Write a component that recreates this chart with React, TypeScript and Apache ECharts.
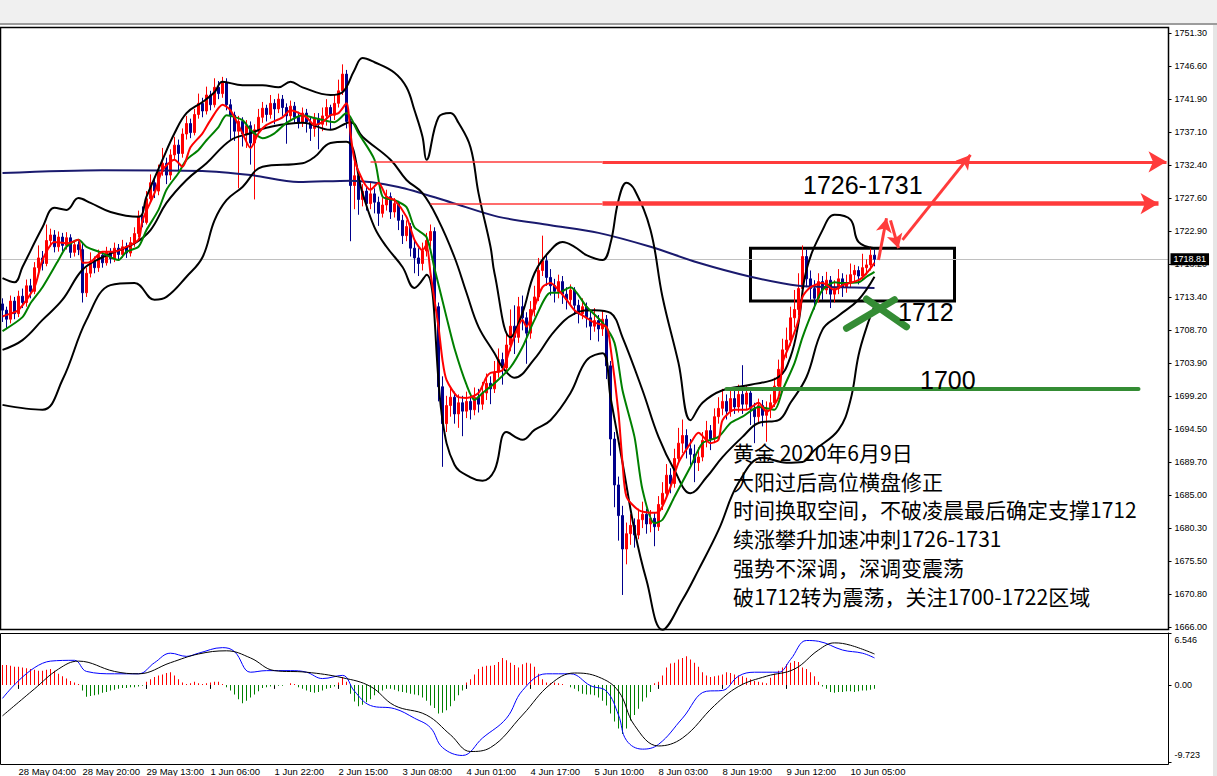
import React, { useEffect, useRef } from 'react';
import * as echarts from 'echarts';

// ---------- DATA ----------
const firstOpen = 1712.4;
const closes = [
  1711.5, 1710.2, 1712.8, 1711.0, 1713.5, 1712.6, 1715.0, 1714.2, 1717.6, 1719.0,
  1718.2, 1721.5, 1722.3, 1720.6, 1722.0, 1720.8, 1721.9, 1719.8, 1720.9, 1720.2,
  1714.0, 1716.8, 1718.5, 1717.6, 1719.4, 1718.3, 1719.8, 1718.9, 1720.4, 1719.5,
  1720.6, 1719.7, 1721.2, 1722.5, 1725.0, 1724.1, 1727.5, 1729.8, 1728.6, 1731.4,
  1732.6, 1730.9, 1733.8, 1735.2, 1734.0, 1736.8, 1738.3, 1737.0, 1739.6, 1741.2,
  1740.1, 1742.4, 1741.0, 1743.5, 1742.6, 1744.2, 1741.0, 1739.5, 1737.2, 1738.6,
  1736.8, 1738.0, 1735.5, 1737.4, 1739.2, 1740.5, 1739.6, 1741.2, 1740.4, 1741.8,
  1740.6, 1739.4, 1740.8, 1739.2, 1738.4, 1739.8, 1738.5, 1737.6, 1739.0, 1738.2,
  1739.4, 1740.6, 1739.5, 1741.2, 1743.0, 1745.4, 1738.6, 1729.4, 1730.8, 1727.4,
  1728.6, 1726.8, 1728.2, 1727.0, 1725.4, 1726.6, 1727.8, 1725.6, 1726.8, 1724.4,
  1722.2, 1723.5, 1720.4, 1719.0, 1718.2, 1720.0, 1721.5, 1722.8, 1712.0, 1700.5,
  1695.2, 1697.8, 1699.0, 1696.6, 1698.2, 1697.0, 1698.4, 1697.2, 1699.0, 1698.0,
  1699.6, 1701.0, 1700.2, 1702.6, 1704.4, 1703.2, 1706.5, 1709.2, 1707.6, 1712.0,
  1710.4, 1708.2, 1711.6, 1713.4, 1717.2, 1718.6, 1716.2, 1715.0, 1714.2, 1715.6,
  1713.8, 1713.0, 1714.4, 1712.2, 1711.0, 1712.0, 1710.4, 1709.2, 1710.0, 1708.8,
  1710.2, 1703.5, 1693.0, 1686.4, 1682.0, 1677.2, 1679.4, 1680.6, 1679.2, 1681.4,
  1682.2, 1680.8, 1681.6, 1680.4, 1683.6, 1685.2, 1687.8, 1686.6, 1690.2, 1692.4,
  1693.5, 1691.6, 1690.8, 1689.6, 1690.4, 1692.8, 1694.2, 1693.0, 1696.2, 1697.4,
  1698.4, 1697.0, 1698.8, 1697.6, 1699.4, 1698.0, 1699.6, 1697.4, 1696.2, 1697.8,
  1696.4, 1697.2, 1698.2, 1700.6, 1703.0, 1705.8, 1707.2, 1710.4, 1711.6, 1714.6,
  1719.2, 1716.0, 1714.6, 1713.2, 1715.6, 1714.4, 1715.8, 1713.8, 1714.6, 1716.0,
  1714.8, 1715.4, 1716.6, 1717.2, 1716.4, 1717.6, 1718.0, 1719.4, 1718.81,
];
const highs = [
  1713.2, 1712.0, 1713.6, 1713.4, 1714.3, 1714.6, 1715.9, 1716.0, 1718.4, 1720.8,
  1720.0, 1723.8, 1723.2, 1723.0, 1722.8, 1722.6, 1722.7, 1722.4, 1721.6, 1721.4,
  1721.0, 1717.6, 1719.8, 1719.2, 1720.2, 1720.0, 1720.6, 1720.4, 1721.2, 1721.0,
  1721.6, 1721.2, 1722.0, 1723.4, 1725.8, 1726.4, 1728.6, 1731.0, 1730.6, 1732.4,
  1734.8, 1733.4, 1734.6, 1736.4, 1736.0, 1737.6, 1739.4, 1739.0, 1740.4, 1742.6,
  1742.0, 1743.6, 1743.0, 1744.8, 1744.4, 1745.0, 1744.8, 1741.8, 1740.0, 1739.4,
  1739.2, 1738.8, 1738.6, 1738.2, 1740.4, 1741.4, 1741.0, 1742.4, 1741.8, 1742.6,
  1742.4, 1741.2, 1741.6, 1741.4, 1740.0, 1740.6, 1740.4, 1739.2, 1739.8, 1739.8,
  1740.6, 1741.8, 1741.0, 1742.4, 1744.6, 1746.8, 1746.0, 1739.0, 1732.8, 1731.6,
  1729.6, 1729.2, 1730.0, 1729.0, 1727.8, 1727.6, 1728.8, 1728.4, 1727.6, 1727.2,
  1725.2, 1724.4, 1724.0, 1721.6, 1720.4, 1721.2, 1722.6, 1723.8, 1723.4, 1712.6,
  1702.0, 1699.2, 1700.6, 1699.8, 1699.4, 1699.2, 1699.8, 1699.6, 1700.4, 1700.2,
  1701.2, 1702.4, 1702.0, 1704.2, 1706.0, 1705.4, 1708.4, 1711.6, 1712.2, 1713.4,
  1713.6, 1711.2, 1712.8, 1715.0, 1719.0, 1722.2, 1719.6, 1717.4, 1716.0, 1716.6,
  1716.4, 1714.8, 1715.2, 1714.8, 1713.0, 1713.2, 1712.6, 1711.4, 1711.8, 1710.8,
  1711.4, 1710.8, 1704.2, 1694.0, 1687.6, 1683.4, 1681.0, 1682.2, 1681.6, 1683.0,
  1684.0, 1683.0, 1682.8, 1682.4, 1684.8, 1686.8, 1689.4, 1688.8, 1691.6, 1694.6,
  1695.8, 1694.4, 1693.0, 1692.2, 1691.8, 1694.0, 1695.6, 1695.0, 1697.4, 1699.0,
  1700.2, 1699.4, 1700.4, 1700.0, 1700.8, 1703.6, 1700.6, 1700.2, 1698.2, 1698.8,
  1698.6, 1698.4, 1699.4, 1701.8, 1704.4, 1707.4, 1709.0, 1712.0, 1714.4, 1716.8,
  1720.8, 1720.2, 1717.2, 1715.8, 1716.8, 1716.4, 1717.0, 1716.4, 1715.8, 1717.4,
  1716.8, 1716.6, 1718.2, 1718.0, 1717.8, 1719.6, 1718.8, 1720.6, 1720.2,
];
const lows = [
  1709.8, 1708.9, 1709.6, 1710.2, 1710.5, 1711.8, 1712.0, 1713.2, 1713.8, 1717.0,
  1717.2, 1717.8, 1720.6, 1719.8, 1719.9, 1720.0, 1720.2, 1719.0, 1719.2, 1719.4,
  1712.6, 1713.4, 1716.2, 1716.8, 1717.0, 1717.6, 1717.9, 1718.2, 1718.4, 1718.8,
  1719.0, 1719.0, 1719.2, 1720.6, 1722.0, 1723.4, 1723.8, 1727.0, 1727.6, 1728.0,
  1730.8, 1729.6, 1730.2, 1733.0, 1731.6, 1733.4, 1736.0, 1736.2, 1736.6, 1739.0,
  1739.2, 1739.6, 1740.2, 1740.6, 1741.8, 1742.0, 1740.2, 1736.0, 1735.8, 1729.0,
  1735.0, 1734.8, 1732.4, 1727.4, 1736.8, 1738.4, 1738.6, 1739.0, 1738.2, 1739.8,
  1739.4, 1735.4, 1738.8, 1738.4, 1737.6, 1737.8, 1737.0, 1735.8, 1736.4, 1734.6,
  1737.2, 1738.0, 1737.4, 1738.8, 1740.6, 1742.4, 1737.6, 1721.4, 1726.0, 1725.2,
  1726.4, 1725.8, 1726.0, 1725.4, 1723.6, 1724.8, 1725.8, 1724.6, 1724.8, 1723.0,
  1721.0, 1721.4, 1719.2, 1716.8, 1716.4, 1717.2, 1719.2, 1720.6, 1709.4, 1698.4,
  1689.0, 1694.0, 1696.2, 1695.2, 1694.6, 1693.4, 1696.0, 1695.8, 1696.4, 1696.8,
  1697.2, 1698.6, 1698.0, 1699.6, 1701.8, 1700.8, 1702.6, 1705.6, 1705.2, 1706.8,
  1708.6, 1703.8, 1707.4, 1710.6, 1712.8, 1716.4, 1715.0, 1713.6, 1712.6, 1713.2,
  1712.4, 1711.6, 1712.2, 1710.8, 1709.6, 1710.2, 1709.0, 1707.2, 1708.4, 1707.0,
  1707.8, 1701.6, 1690.6, 1683.2, 1678.4, 1670.6, 1675.0, 1677.8, 1677.4, 1678.6,
  1680.2, 1679.4, 1679.6, 1677.6, 1679.8, 1682.8, 1684.6, 1685.2, 1686.0, 1689.4,
  1691.0, 1690.2, 1689.2, 1686.8, 1688.4, 1689.8, 1691.8, 1691.4, 1692.4, 1695.2,
  1696.4, 1695.8, 1696.2, 1696.6, 1696.8, 1696.6, 1697.2, 1695.0, 1692.4, 1695.4,
  1694.8, 1692.6, 1696.0, 1697.6, 1700.0, 1702.2, 1704.6, 1706.4, 1709.0, 1710.8,
  1713.8, 1714.8, 1713.0, 1711.6, 1712.6, 1713.0, 1713.8, 1711.8, 1712.6, 1713.8,
  1713.4, 1714.0, 1714.8, 1715.6, 1715.2, 1715.8, 1716.6, 1717.2, 1717.8,
];

// indicator lines: [barIndex, value]
const maFast = [
  [0, 1710.6], [2, 1711.0], [4, 1711.5], [8, 1714.8], [10, 1718.7], [13, 1721.3], [16, 1721.1], [19, 1721.6],
  [20, 1718.3], [22, 1718.4], [25, 1719.9], [28, 1719.9], [31, 1720.6], [34, 1721.6], [35, 1724.4],
  [38, 1728.3], [40, 1731.6], [43, 1733.1], [45, 1732.1], [47, 1734.9], [50, 1736.9], [52, 1738.8],
  [55, 1741.0], [57, 1740.2], [60, 1736.9], [62, 1734.8], [64, 1736.9], [66, 1738.1], [70, 1739.2],
  [72, 1740.2], [76, 1739.2], [78, 1738.1], [80, 1738.5], [82, 1739.5], [84, 1739.8], [86, 1741.2],
  [87, 1736.9], [88, 1733.1], [90, 1730.2], [92, 1728.8], [94, 1729.8], [96, 1727.8], [98, 1727.3],
  [101, 1724.9], [103, 1721.6], [105, 1720.1], [106, 1720.9], [107, 1716.8], [109, 1709.1], [110, 1704.3],
  [111, 1701.5], [114, 1699.0], [116, 1698.9], [119, 1699.6], [121, 1701.9], [122, 1702.5], [125, 1702.9],
  [127, 1706.2], [130, 1710.1], [131, 1709.1], [133, 1712.0], [135, 1714.8], [137, 1715.4], [139, 1714.4],
  [141, 1713.0], [143, 1711.5], [146, 1710.4], [148, 1709.7], [151, 1709.1], [152, 1706.2], [154, 1696.7],
  [155, 1689.6], [156, 1684.7], [159, 1682.8], [162, 1682.4], [164, 1682.5], [167, 1686.1], [169, 1689.6],
  [172, 1692.4], [174, 1693.9], [177, 1692.4], [179, 1692.9], [180, 1695.7], [183, 1697.2], [186, 1697.2],
  [189, 1698.2], [191, 1696.9], [194, 1699.0], [195, 1703.9], [197, 1706.8], [199, 1710.1], [200, 1713.4],
  [202, 1714.8], [205, 1715.4], [208, 1714.4], [210, 1715.1], [214, 1715.8], [216, 1716.8], [218, 1718.3],
];
const maSlow = [
  [0, 1708.5], [5, 1710.5], [7, 1712.5], [10, 1714.8], [14, 1718.7], [16, 1720.6], [19, 1721.6], [21, 1720.6],
  [25, 1719.7], [29, 1718.7], [31, 1719.9], [34, 1720.6], [36, 1723.0], [39, 1725.9], [41, 1728.8],
  [44, 1731.2], [46, 1733.1], [49, 1734.5], [51, 1735.9], [54, 1737.8], [56, 1739.5], [60, 1738.8],
  [62, 1737.4], [65, 1736.2], [68, 1736.9], [71, 1738.4], [75, 1739.5], [78, 1739.1], [83, 1738.5],
  [86, 1739.8], [89, 1736.9], [93, 1733.1], [95, 1727.8], [98, 1727.3], [101, 1726.3], [103, 1723.4],
  [106, 1722.0], [108, 1717.5], [111, 1710.5], [113, 1706.0], [116, 1700.8], [118, 1698.6], [120, 1699.6],
  [123, 1701.0], [127, 1703.3], [130, 1706.2], [133, 1710.1], [137, 1714.0], [139, 1714.0], [142, 1714.8],
  [146, 1712.0], [150, 1709.7], [153, 1706.8], [155, 1700.0], [158, 1693.3], [160, 1685.7], [163, 1680.9],
  [165, 1681.4], [168, 1684.7], [172, 1689.0], [175, 1692.4], [179, 1693.3], [182, 1695.3], [185, 1696.2],
  [189, 1697.6], [193, 1697.2], [195, 1700.0], [198, 1703.9], [200, 1707.6], [203, 1712.0], [205, 1714.4],
  [208, 1715.5], [210, 1715.4], [214, 1715.5], [216, 1716.3], [218, 1717.0],
];
const maLong = [
  [0, 1731.2], [25, 1731.6], [50, 1731.5], [62, 1730.9], [74, 1729.9], [87, 1730.1], [99, 1729.2],
  [112, 1727.0], [124, 1724.9], [137, 1723.7], [149, 1722.6], [162, 1720.6], [174, 1718.3], [187, 1716.3],
  [199, 1715.0], [209, 1714.8], [218, 1714.7],
];
const bandUpper = [
  [0, 1716.1], [3, 1715.5], [5, 1717.7], [10, 1723.4], [13, 1726.2], [16, 1725.9], [19, 1727.6], [22, 1726.9],
  [27, 1725.6], [34, 1724.9], [36, 1727.8], [40, 1733.1], [43, 1736.9], [46, 1739.8], [50, 1741.4],
  [53, 1742.8], [55, 1744.3], [60, 1743.8], [65, 1743.8], [69, 1743.5], [72, 1744.3], [75, 1743.5],
  [82, 1742.4], [85, 1742.8], [88, 1746.0], [90, 1747.7], [93, 1747.1], [98, 1745.6], [101, 1743.5],
  [103, 1740.2], [105, 1736.4], [106, 1733.1], [109, 1739.2], [112, 1739.8], [114, 1738.4], [117, 1734.9],
  [119, 1728.3], [122, 1720.6], [123, 1716.8], [127, 1707.6], [130, 1711.1], [133, 1716.8], [137, 1720.1],
  [140, 1721.3], [143, 1720.6], [146, 1719.4], [150, 1718.7], [152, 1721.1], [154, 1727.3], [156, 1729.8],
  [158, 1728.8], [162, 1723.0], [165, 1713.4], [169, 1703.9], [172, 1695.7], [175, 1698.2], [180, 1700.0],
  [187, 1700.8], [194, 1701.9], [197, 1704.8], [199, 1709.7], [201, 1717.3], [205, 1723.0], [208, 1725.2],
  [212, 1724.5], [214, 1721.3], [218, 1720.4],
];
const bandMiddle = [
  [0, 1705.8], [5, 1707.2], [10, 1710.1], [15, 1713.0], [20, 1717.3], [25, 1719.1], [33, 1721.1], [37, 1723.0],
  [41, 1726.9], [46, 1730.2], [51, 1732.6], [57, 1735.9], [62, 1736.9], [66, 1737.7], [75, 1738.4],
  [82, 1737.4], [87, 1738.5], [90, 1736.4], [97, 1733.1], [101, 1730.2], [105, 1728.3], [109, 1724.4],
  [113, 1719.1], [116, 1714.0], [119, 1709.1], [123, 1705.3], [125, 1703.3], [128, 1701.8], [133, 1704.5],
  [138, 1708.5], [143, 1711.0], [148, 1711.5], [152, 1711.1], [155, 1707.6], [160, 1700.0], [164, 1693.3],
  [168, 1688.5], [172, 1685.2], [176, 1687.5], [180, 1690.4], [185, 1693.3], [189, 1695.3], [194, 1695.7],
  [197, 1698.2], [201, 1701.9], [205, 1708.7], [209, 1710.7], [214, 1713.0], [218, 1716.3],
];
const bandLower = [
  [0, 1697.9], [10, 1697.2], [15, 1701.5], [21, 1710.1], [27, 1715.1], [33, 1715.4], [38, 1713.0], [41, 1713.4],
  [46, 1716.3], [50, 1719.1], [53, 1724.4], [56, 1727.3], [60, 1729.2], [65, 1732.1], [75, 1732.6],
  [78, 1733.5], [82, 1735.5], [86, 1735.7], [90, 1728.3], [93, 1723.4], [96, 1720.6], [100, 1717.7],
  [103, 1714.7], [106, 1716.6], [110, 1695.7], [113, 1689.3], [117, 1687.5], [120, 1687.0], [123, 1688.5],
  [126, 1694.0], [130, 1692.9], [133, 1694.3], [137, 1695.7], [142, 1699.6], [146, 1704.3], [150, 1705.3],
  [152, 1699.0], [155, 1689.6], [158, 1679.9], [161, 1672.7], [165, 1665.6], [170, 1669.9], [174, 1674.2],
  [179, 1679.9], [184, 1686.7], [190, 1690.3], [196, 1689.6], [200, 1689.7], [203, 1691.4], [209, 1694.3],
  [212, 1698.6], [214, 1705.0], [216, 1709.0], [218, 1712.1],
];

// MACD sub-window
const macdHist = [
  2.5, 2.5, 2.4, 2.3, 2.3, 2.2, 2.1, 2.0, 1.9, 1.8, 1.8,
  1.9, 2.0, 1.8, 1.4,
  1.1, 0.8, 0.5, 0.3, 0.1,
  -0.7, -1.5, -1.4, -1.3, -1.2, -1.0, -0.9, -0.7, -0.6, -0.5, -0.4, -0.4, -0.3, -0.3, -0.2, -0.1,
  0.4, 0.7, 1.0, 1.2, 1.3, 1.5, 1.6, 1.2, 0.7, 0.3,
  0.1, 0.2, 0.4, 0.2, 0.1, 0.2, 0.3, 0.4, 0.4,
  0.1,
  -0.3, -0.7, -1.2, -1.8, -2.3, -2.0, -1.6, -1.2, -0.8, -0.4,
  -0.3, -0.2, -0.1, -0.1, -0.1, 0.0,
  0.2, 0.1,
  -0.3, -0.5, -0.7, -0.9, -1.0, -0.9, -0.7, -0.5, -0.4, -0.2,
  0.3, 1.0, 0.4,
  -1.1, -2.1, -2.7, -2.5, -2.2, -1.8, -1.3, -1.0, -0.7, -0.5, -0.5, -0.6, -0.8, -0.9, -1.0, -1.1, -1.2,
  -1.3, -1.6, -2.0, -2.6, -2.9, -3.6, -3.5, -3.2, -2.7, -2.0, -1.3, -0.7,
  0.3, 0.7, 1.3, 2.0, 2.3, 2.4, 2.4, 2.5, 2.9, 3.4, 3.1, 2.8, 2.5, 2.2, 2.6, 2.8, 2.7, 2.3, 1.4, 0.7,
  0.3, 0.2, 0.3, 0.2,
  0.1, 0.0, -0.3, -0.5, -0.8, -1.1, -1.2, -1.2, -1.3, -1.6, -2.0, -2.6, -3.6, -4.6, -5.5, -6.2, -5.5,
  -4.5, -3.8, -3.0, -2.1, -1.6, -0.9,
  0.2, 0.4, 1.2, 2.2, 2.7, 2.8, 3.2, 3.4, 3.6, 3.2,
  2.8, 2.3, 1.6, 1.2, 1.0, 1.1, 1.2, 1.3, 1.6, 1.5, 1.3, 1.2, 1.1, 0.9, 0.7, 0.5, 0.4, 0.3, 0.2,
  0.9, 1.4, 1.8, 2.2, 2.6, 2.8, 3.0, 2.9, 2.2, 2.0, 1.6, 1.1, 0.4,
  -0.2, -0.5, -0.9, -1.0, -0.9, -0.9, -0.8, -0.8, -0.9, -0.8, -0.7, -0.7, -0.6, -0.5,
];
const macdMain = [
  [0, -1.7], [12, 3.0], [18, 3.1], [21, 1.7], [28, 1.4], [34, 1.4], [38, 2.8], [42, 4.0], [46, 3.6], [49, 4.0],
  [55, 4.7], [58, 4.2], [62, 1.6], [66, 1.8], [72, 1.8], [76, 1.6], [80, 0.8], [85, 1.2], [88, -0.8],
  [92, -2.6], [98, -3.0], [103, -4.2], [107, -5.4], [110, -7.9], [115, -8.9], [120, -6.7], [126, -4.2],
  [130, -0.7], [136, 1.4], [142, 1.4], [147, -0.1], [151, -0.8], [154, -3.8], [156, -7.0], [160, -8.1],
  [164, -7.5], [170, -4.2], [176, -0.8], [180, -0.7], [184, 1.1], [188, 1.6], [194, 1.6], [197, 3.2],
  [201, 5.6], [204, 5.5], [210, 4.4], [215, 4.0], [218, 3.4],
];
const macdSignal = [
  [0, -3.9], [8, -0.5], [14, 2.0], [19, 3.0], [28, 1.7], [34, 1.4], [42, 2.8], [49, 3.9], [56, 4.3],
  [62, 3.4], [68, 1.8], [76, 1.6], [85, 0.9], [92, -0.2], [98, -2.6], [106, -3.8], [112, -6.3], [117, -8.4],
  [122, -7.9], [130, -3.8], [137, 0.1], [143, 1.5], [149, 1.0], [154, -0.8], [158, -5.1], [164, -7.7],
  [170, -6.7], [178, -2.6], [184, -0.2], [191, 1.1], [198, 2.0], [204, 4.4], [208, 5.3], [212, 5.0],
  [218, 3.9],
];

const priceTickLabels = [
  '1666.00', '1670.80', '1675.50', '1680.30', '1685.00', '1689.70', '1694.50', '1699.20', '1703.90',
  '1708.70', '1713.40', '1718.20', '1722.90', '1727.60', '1732.40', '1737.10', '1741.90', '1746.60', '1751.30',
];
const timeTickLabels = [
  '28 May 04:00', '28 May 20:00', '29 May 13:00', '1 Jun 06:00', '1 Jun 22:00', '2 Jun 15:00',
  '3 Jun 08:00', '4 Jun 01:00', '4 Jun 17:00', '5 Jun 10:00', '8 Jun 03:00', '8 Jun 19:00',
  '9 Jun 12:00', '10 Jun 05:00',
];
const lastPrice = 1718.81;
const noteLines = [
  '黄金 2020年6月9日',
  '大阳过后高位横盘修正',
  '时间换取空间，不破凌晨最后确定支撑1712',
  '续涨攀升加速冲刺1726-1731',
  '强势不深调，深调变震荡',
  '破1712转为震荡，关注1700-1722区域',
];

// ---------- CHART ----------
const SLOTS = 292;
const PRICE_MIN = 1666;
const PRICE_STEP = 4.739;
const MACD_MIN = -9.723;
const MACD_MAX = 6.546;

export default function App() {
  const ref = useRef<HTMLDivElement>(null);
  useEffect(() => {
    document.body.style.margin = '0';
    const chart = echarts.init(ref.current as HTMLDivElement, null, { renderer: 'svg' });
    const slots = Array.from({ length: SLOTS }, (_, i) => String(i));
    const candles = closes.map((c, i) => {
      const o = i === 0 ? firstOpen : closes[i - 1];
      return [o, c, Math.min(lows[i], o, c), Math.max(highs[i], o, c)];
    });
    const isTimeTick = (idx: number) => idx >= 4 && (idx - 4) % 16 === 0 && (idx - 4) / 16 < timeTickLabels.length;
    const axisFont = 'Liberation Sans, Arial, sans-serif';
    const timeFont = '"Liberation Sans Narrow", "Liberation Sans", Arial, sans-serif';
    const cjk = '"Noto Sans CJK SC", "Noto Sans", sans-serif';
    const lineS = (data: number[][], color: string, width: number, smooth = 0.3) => ({
      type: 'line', xAxisIndex: 0, yAxisIndex: 0, data, showSymbol: false, smooth, clip: false,
      lineStyle: { color, width }, z: 3, silent: true,
    });
    const macdLine = (data: number[][], color: string) => ({
      type: 'line', xAxisIndex: 1, yAxisIndex: 1, data, showSymbol: false, smooth: 0.4, clip: false,
      lineStyle: { color, width: 1 }, z: 4, silent: true,
    });
    const seg = (a: number[], b: number[], extra: any = {}) => [{ coord: a, ...extra }, { coord: b }];
    const red = '#ff3b3b';
    const green = '#348c34';

    const option: any = {
      animation: false,
      backgroundColor: '#ffffff',
      grid: [
        { left: 0.5, top: 33, width: 1168, height: 594 },
        { left: 0.5, top: 633, width: 1168, height: 132 },
      ],
      xAxis: [
        { type: 'category', gridIndex: 0, data: slots, boundaryGap: true, show: false },
        {
          type: 'category', gridIndex: 1, data: slots, boundaryGap: true,
          axisLine: { show: false },
          axisTick: { show: true, interval: (i: number) => isTimeTick(i), alignWithLabel: true, length: 4, lineStyle: { color: '#000' } },
          axisLabel: {
            interval: (i: number) => isTimeTick(i),
            formatter: (_v: string, i: number) => timeTickLabels[(i - 4) / 16] ?? '',
            align: 'left', fontSize: 9.5, color: '#000', margin: 4, fontFamily: timeFont,
          },
          splitLine: { show: false },
        },
      ],
      yAxis: [
        {
          type: 'value', gridIndex: 0, position: 'right', min: PRICE_MIN, max: PRICE_MIN + 18 * PRICE_STEP,
          interval: PRICE_STEP, splitLine: { show: false },
          axisLine: { show: true, lineStyle: { color: '#000', width: 1 } },
          axisTick: { show: true, length: 3, lineStyle: { color: '#000' } },
          axisLabel: {
            fontSize: 9, color: '#000', margin: 6, fontFamily: axisFont,
            formatter: (v: number) => priceTickLabels[Math.round((v - PRICE_MIN) / PRICE_STEP)] ?? '',
          },
        },
        {
          type: 'value', gridIndex: 1, position: 'right', min: MACD_MIN, max: MACD_MAX, interval: -MACD_MIN,
          splitLine: { show: false },
          axisLine: { show: true, lineStyle: { color: '#000', width: 1 } },
          axisTick: { show: true, length: 3, lineStyle: { color: '#000' } },
          axisLabel: {
            fontSize: 9, color: '#000', margin: 6, fontFamily: axisFont,
            formatter: (v: number) => {
              if (Math.abs(v) < 1e-6) return '0.00';
              if (v > 0) return '{t|' + MACD_MAX.toFixed(3) + '}';
              return '{b|' + MACD_MIN.toFixed(3) + '}';
            },
            rich: {
              t: { padding: [14, 0, 0, 0], fontSize: 9, fontFamily: axisFont, color: '#000' },
              b: { padding: [0, 0, 14, 0], fontSize: 9, fontFamily: axisFont, color: '#000' },
            },
          },
        },
      ],
      series: [
        {
          type: 'candlestick', xAxisIndex: 0, yAxisIndex: 0, data: candles, barWidth: 3, z: 2, silent: true,
          itemStyle: { color: '#ff0000', color0: '#00008b', borderColor: '#ff0000', borderColor0: '#00008b', borderWidth: 1 },
          markLine: {
            silent: true, symbol: 'none', z: 1,
            lineStyle: { color: '#c0c0c0', width: 1, type: 'solid' },
            label: {
              show: true, position: 'end', distance: 2, formatter: lastPrice.toFixed(2),
              backgroundColor: '#000', color: '#fff', padding: [2, 3, 1, 3], fontSize: 9, fontFamily: axisFont,
            },
            data: [{ yAxis: lastPrice }],
          },
        },
        lineS(maLong, '#1a1a6e', 2, 0.3),
        lineS(bandUpper, '#000000', 2, 0.4),
        lineS(bandMiddle, '#000000', 2, 0.4),
        lineS(bandLower, '#000000', 2, 0.4),
        lineS(maSlow, '#008000', 2, 0.25),
        lineS(maFast, '#ff0000', 2, 0.25),
        // MACD
        {
          type: 'bar', xAxisIndex: 1, yAxisIndex: 1, barWidth: 1, silent: true, z: 2,
          data: macdHist.map((v) => ({ value: v, itemStyle: { color: v > 0 ? '#ff0000' : '#008000' } })),
        },
        macdLine(macdMain, '#0000ff'),
        macdLine(macdSignal, '#000000'),
        // annotations: thin arrow shafts
        {
          type: 'line', xAxisIndex: 0, yAxisIndex: 0, data: [], z: 6, silent: true,
          markLine: {
            silent: true, symbol: 'none', label: { show: false },
            lineStyle: { color: red, width: 1.5, type: 'solid' },
            data: [seg([92, 1732.8], [150, 1732.8]), seg([107, 1726.8], [150, 1726.8])],
          },
        },
        // thick arrows with heads
        {
          type: 'line', xAxisIndex: 0, yAxisIndex: 0, data: [], z: 6, silent: true,
          markLine: {
            silent: true, symbol: ['none', 'arrow'], symbolSize: [16, 18], label: { show: false },
            lineStyle: { color: red, width: 3.5, type: 'solid' },
            data: [
              seg([150, 1732.8], [291, 1732.8], { lineStyle: { width: 3 } }),
              seg([150, 1726.8], [289, 1726.8], { lineStyle: { width: 4.5 } }),
            ],
          },
        },
        // zig-zag arrows
        {
          type: 'line', xAxisIndex: 0, yAxisIndex: 0, data: [], z: 6, silent: true,
          markLine: {
            silent: true, symbol: ['none', 'arrow'], symbolSize: [12, 14], label: { show: false },
            lineStyle: { color: red, width: 3, type: 'solid' },
            data: [
              seg([219, 1718.7], [221, 1724.7]),
              seg([222, 1724.4], [224, 1720.4]),
              seg([225, 1721.6], [242, 1733.8]),
            ],
          },
        },
        // green support line and cross
        {
          type: 'line', xAxisIndex: 0, yAxisIndex: 0, data: [], z: 6, silent: true,
          markLine: {
            silent: true, symbol: 'none', label: { show: false },
            lineStyle: { color: green, width: 4, type: 'solid', cap: 'round' },
            data: [
              seg([181, 1700.2], [284, 1700.2]),
              seg([211, 1708.9], [223, 1713.0], { lineStyle: { width: 7, cap: 'round' } }),
              seg([216, 1713.1], [226, 1709.1], { lineStyle: { width: 7, cap: 'round' } }),
            ],
          },
        },
        // consolidation box
        {
          type: 'line', xAxisIndex: 0, yAxisIndex: 0, data: [], z: 5, silent: true,
          markArea: {
            silent: true,
            itemStyle: { color: 'rgba(0,0,0,0)', borderColor: '#000', borderWidth: 3 },
            data: [[{ coord: [187, 1720.4] }, { coord: [238, 1712.8] }]],
          },
        },
      ],
      graphic: [
        { type: 'rect', z: 0, shape: { x: 0, y: 0, width: 1217, height: 23 }, style: { fill: '#f0f0f0' } },
        { type: 'rect', z: 0, shape: { x: 0, y: 23, width: 1217, height: 2 }, style: { fill: '#9c9c9c' } },
        { type: 'rect', z: 0, shape: { x: 1213, y: 25, width: 4, height: 751 }, style: { fill: '#e6e6e6' } },
        { type: 'rect', z: 10, shape: { x: 0.5, y: 27.5, width: 1168, height: 602 }, style: { fill: 'none', stroke: '#000', lineWidth: 1.5 } },
        { type: 'rect', z: 10, shape: { x: 0.5, y: 633.5, width: 1168, height: 131 }, style: { fill: 'none', stroke: '#000', lineWidth: 1 } },
        { type: 'text', z: 100, x: 803, y: 185, style: { text: '1726-1731', fill: '#000', font: '25px "Liberation Sans", Arial, sans-serif', textVerticalAlign: 'middle' } },
        { type: 'text', z: 100, x: 898, y: 312, style: { text: '1712', fill: '#000', font: '25px "Liberation Sans", Arial, sans-serif', textVerticalAlign: 'middle' } },
        { type: 'text', z: 100, x: 920, y: 380, style: { text: '1700', fill: '#000', font: '25px "Liberation Sans", Arial, sans-serif', textVerticalAlign: 'middle' } },
        ...noteLines.map((t, k) => ({
          type: 'text', z: 100, x: 733, y: 452 + k * 28.7,
          style: { text: t, fill: '#000', font: '21px ' + cjk, textVerticalAlign: 'middle' },
        })),
      ],
    };
    chart.setOption(option);
    return () => chart.dispose();
  }, []);
  return <div ref={ref} style={{ width: 1217, height: 776, background: '#fff' }} />;
}
